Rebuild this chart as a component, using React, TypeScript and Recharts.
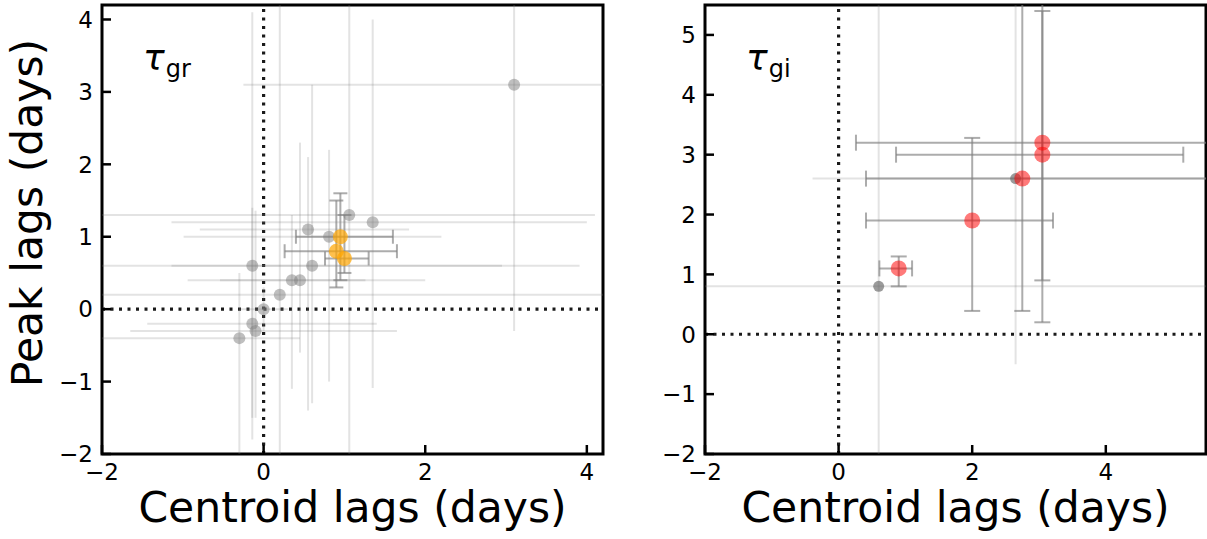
import React from "react"
import { ScatterChart, Scatter, XAxis, YAxis, ErrorBar, ReferenceLine, ReferenceArea } from "recharts"

const FONT = "DejaVu Sans"

// tau_gr: all sources (faint grey)
const grCentroid = [3.1, 1.06, 1.35, 0.55, 0.81, -0.14, 0.6, 0.35, 0.45, 0.2, 0.0, -0.14, -0.1, -0.3]
const grPeak = [3.1, 1.3, 1.2, 1.1, 1.0, 0.6, 0.6, 0.4, 0.4, 0.2, 0.0, -0.2, -0.3, -0.4]
const grCentroidErr = [
  [3.35, 2.0], [3.3, 3.04], [2.49, 2.65], [1.34, 1.25], [1.8, 1.39], [2.5, 4.05], [1.74, 2.35],
  [1.29, 1.65], [0.99, 0.81], [3.0, 5.0], [0.3, 0.3], [1.3, 1.54], [1.55, 1.75], [2.0, 0.75],
]
const grPeakErr = [
  [3.4, 2.0], [3.5, 3.0], [2.29, 2.8], [2.5, 1.0], [2.0, 1.2], [2.4, 3.5], [1.9, 2.5],
  [1.5, 0.9], [1.0, 1.9], [3.0, 5.0], [0.3, 0.3], [1.3, 1.6], [1.2, 1.66], [2.0, 0.9],
]

// tau_gr: selected sources (orange)
const grSelCentroid = [0.95, 0.9, 1.0]
const grSelPeak = [1.0, 0.8, 0.7]
const grSelCentroidErr = [[0.55, 0.65], [0.64, 0.75], [0.24, 0.3]]
const grSelPeakErr = [[0.6, 0.6], [0.5, 0.7], [0.2, 0.6]]

// tau_gi: all sources (grey)
const giCentroid = [2.65, 0.6]
const giPeak = [2.6, 0.8]
const giCentroidErr = [[3.04, 3.0], [3.0, 5.0]]
const giPeakErr = [[3.1, 3.0], [3.0, 5.0]]

// tau_gi: selected sources (red)
const giSelCentroid = [3.05, 3.05, 2.75, 2.0, 0.9]
const giSelPeak = [3.2, 3.0, 2.6, 1.9, 1.1]
const giSelCentroidErr = [[2.79, 3.0], [2.19, 2.11], [2.34, 3.0], [1.59, 1.21], [0.29, 0.2]]
const giSelPeakErr = [[3.0, 2.2], [2.1, 3.0], [2.21, 3.0], [1.51, 1.38], [0.3, 0.2]]

const xTicks = [-2, 0, 2, 4]
const grYTicks = [-2, -1, 0, 1, 2, 3, 4]
const giYTicks = [-2, -1, 0, 1, 2, 3, 4, 5]

const toPoints = (xs: number[], ys: number[], exs: number[][], eys: number[][]) =>
  xs.map((x, i) => ({ x, y: ys[i], ex: exs[i], ey: eys[i] }))

const fmt = (v: number) => (v < 0 ? `\u2212${-v}` : `${v}`)

const dot = (r: number, fill: string, opacity: number) => (props: any) =>
  <circle cx={props.cx} cy={props.cy} r={r} fill={fill} fillOpacity={opacity} />

const XTick = ({ x, y, payload }: any) => (
  <text x={x} y={y} dy="0.73em" textAnchor="middle" fontSize={23} fontFamily={FONT} fill="#000">
    {fmt(payload.value)}
  </text>
)

const YTick = ({ x, y, payload }: any) => (
  <text x={x} y={y} dy="0.36em" textAnchor="end" fontSize={23} fontFamily={FONT} fill="#000">
    {fmt(payload.value)}
  </text>
)

const axisProps = {
  tickLine: { stroke: "#000", strokeWidth: 2.5 },
  tickSize: -9,
  tickMargin: 18,
  axisLine: false,
  allowDataOverflow: true,
  interval: 0 as const,
}

const xTitle = () => (
  <text x={352.5} y={522} textAnchor="middle" fontSize={42.5} fontFamily={FONT} fill="#000">
    Centroid lags (days)
  </text>
)

const tau = (x: number, sub: string) => (
  <text x={x} y={70} fontSize={36} fontFamily={FONT} fill="#000">
    <tspan fontStyle="italic">τ</tspan>
    <tspan fontSize={24} dx={1} dy={7}>{sub}</tspan>
  </text>
)

const faint = { stroke: "#808080", strokeOpacity: 0.22, strokeWidth: 2 }
const strong = { stroke: "#808080", strokeOpacity: 0.65, strokeWidth: 2 }

function Panel({ id, xMax, yMax, yTicks, all, sel, selColor, selOpacity, allColor, allOpacity, allR, selR, cap, sub, withYTitle }: any) {
  const clip = `url(#${id})`
  return (
    <ScatterChart width={610} height={539} margin={{ top: 5, right: 7, bottom: 0, left: 0 }}>
      <XAxis
        type="number"
        dataKey="x"
        domain={[-2, xMax]}
        ticks={xTicks}
        height={85}
        tick={<XTick />}
        label={xTitle}
        {...axisProps}
      />
      <YAxis
        type="number"
        dataKey="y"
        domain={[-2, yMax]}
        ticks={yTicks}
        width={102}
        tick={<YTick />}
        label={() => (
          <g>
            <defs>
              <clipPath id={id}>
                <rect x={102} y={5} width={501} height={449} />
              </clipPath>
            </defs>
            {withYTitle && (
              <text transform="translate(42,213) rotate(-90)" textAnchor="middle" fontSize={42.5} fontFamily={FONT} fill="#000">
                Peak lags (days)
              </text>
            )}
            {tau(143, sub)}
          </g>
        )}
        {...axisProps}
      />
      <ReferenceLine x={0} stroke="#1a1a1a" strokeWidth={3.2} strokeDasharray="3 5.5" />
      <ReferenceLine y={0} stroke="#1a1a1a" strokeWidth={3.2} strokeDasharray="3 5.5" />
      <Scatter data={all} isAnimationActive={false} shape={dot(allR, allColor, allOpacity)}>
        <ErrorBar dataKey="ex" direction="x" width={0} clipPath={clip} {...faint} />
        <ErrorBar dataKey="ey" direction="y" width={0} clipPath={clip} {...faint} />
      </Scatter>
      <Scatter data={sel} isAnimationActive={false} shape={dot(selR, selColor, selOpacity)}>
        <ErrorBar dataKey="ex" direction="x" width={cap} clipPath={clip} {...strong} />
        <ErrorBar dataKey="ey" direction="y" width={cap} clipPath={clip} {...strong} />
      </Scatter>
      <ReferenceArea x1={-2} x2={xMax} y1={-2} y2={yMax} fill="none" stroke="#000" strokeWidth={3} ifOverflow="visible" />
    </ScatterChart>
  )
}

export default function App() {
  return (
    <div style={{ position: "absolute", left: 0, top: 0, width: 1207, height: 539, background: "#fff" }}>
      <div style={{ position: "absolute", left: 0, top: 0 }}>
        <Panel
          id="clip-gr"
          xMax={4.2}
          yMax={4.2}
          yTicks={grYTicks}
          all={toPoints(grCentroid, grPeak, grCentroidErr, grPeakErr)}
          sel={toPoints(grSelCentroid, grSelPeak, grSelCentroidErr, grSelPeakErr)}
          allColor="#808080"
          allOpacity={0.5}
          allR={6}
          selColor="#ffa500"
          selOpacity={0.7}
          selR={7.5}
          cap={7}
          sub="gr"
          withYTitle
        />
      </div>
      <div style={{ position: "absolute", left: 603, top: 0 }}>
        <Panel
          id="clip-gi"
          xMax={5.5}
          yMax={5.5}
          yTicks={giYTicks}
          all={toPoints(giCentroid, giPeak, giCentroidErr, giPeakErr)}
          sel={toPoints(giSelCentroid, giSelPeak, giSelCentroidErr, giSelPeakErr)}
          allColor="#666"
          allOpacity={0.65}
          allR={5.5}
          selColor="#ff0000"
          selOpacity={0.52}
          selR={8}
          cap={8}
          sub="gi"
        />
      </div>
    </div>
  )
}
